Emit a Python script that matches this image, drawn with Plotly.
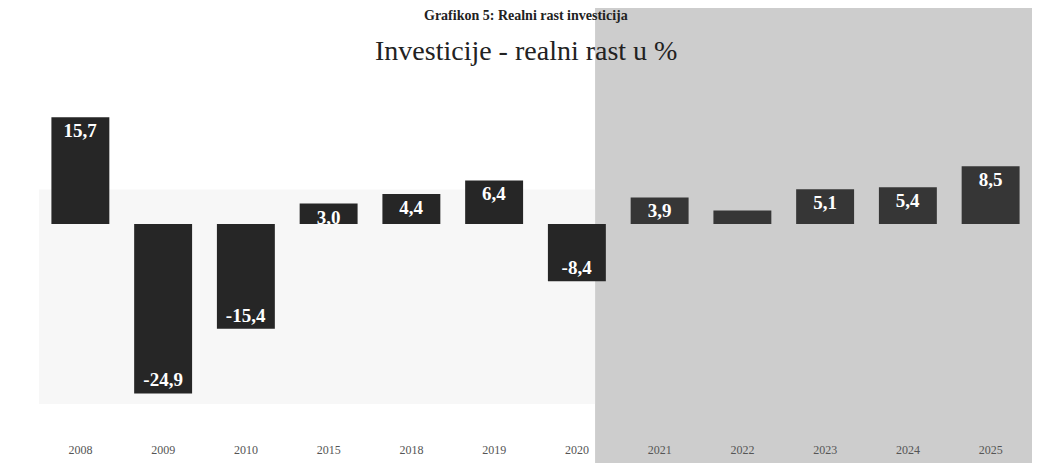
import plotly.graph_objects as go

years = ["2008", "2009", "2010", "2015", "2018", "2019", "2020", "2021", "2022", "2023", "2024", "2025"]
growth = [15.7, -24.9, -15.4, 3.0, 4.4, 6.4, -8.4, 3.9, 2.0, 5.1, 5.4, 8.5]
labels = ["15,7", "-24,9", "-15,4", "3,0", "4,4", "6,4", "-8,4", "3,9", "", "5,1", "5,4", "8,5"]

title_top = "Grafikon 5: Realni rast investicija"
title_main = "Investicije - realni rast u %"

bar_colors = ["#262626"] * 7 + ["#363636"] * 5

fig = go.Figure()
fig.add_trace(go.Bar(
    x=years, y=growth, text=["<b>" + t + "</b>" if t else "" for t in labels],
    textposition="inside", insidetextanchor="end",
    textfont=dict(family="Liberation Serif", size=19, color="white"),
    marker=dict(color=bar_colors, line=dict(width=0)),
    width=0.7,
    hoverinfo="skip",
))

fig.update_layout(
    width=1044, height=463,
    margin=dict(l=31, r=20, t=99, b=34),
    paper_bgcolor="white", plot_bgcolor="rgba(0,0,0,0)",
    showlegend=False,
    uniformtext=dict(minsize=19, mode="show"),
    font=dict(family="Liberation Serif"),
    xaxis=dict(showgrid=False, showline=False, zeroline=False, ticks="",
               tickfont=dict(family="Liberation Serif", size=12, color="#555"),
               ticklabelstandoff=4),
    yaxis=dict(visible=False, range=[-31.3, 17.2]),
    shapes=[
        dict(type="rect", xref="paper", yref="paper", x0=0.56, x1=1.0, y0=-0.12, y1=1.45,
             fillcolor="#cdcdcd", line=dict(width=0), layer="below"),
        dict(type="rect", xref="paper", yref="paper", x0=0.0, x1=0.56, y0=0.1, y1=0.75,
             fillcolor="rgba(243,243,243,0.7)", line=dict(width=0), layer="below"),
    ],
    annotations=[
        dict(text=title_main, xref="paper", yref="paper", x=0.49, y=1.17,
             xanchor="center", yanchor="middle", showarrow=False,
             font=dict(family="Liberation Serif", size=28, color="#222")),
        dict(text="<b>" + title_top + "</b>", xref="paper", yref="paper", x=0.49, y=1.305,
             xanchor="center", yanchor="top", showarrow=False,
             font=dict(family="Liberation Serif", size=14, color="#222")),
    ],
)

fig.write_html("out.html")
